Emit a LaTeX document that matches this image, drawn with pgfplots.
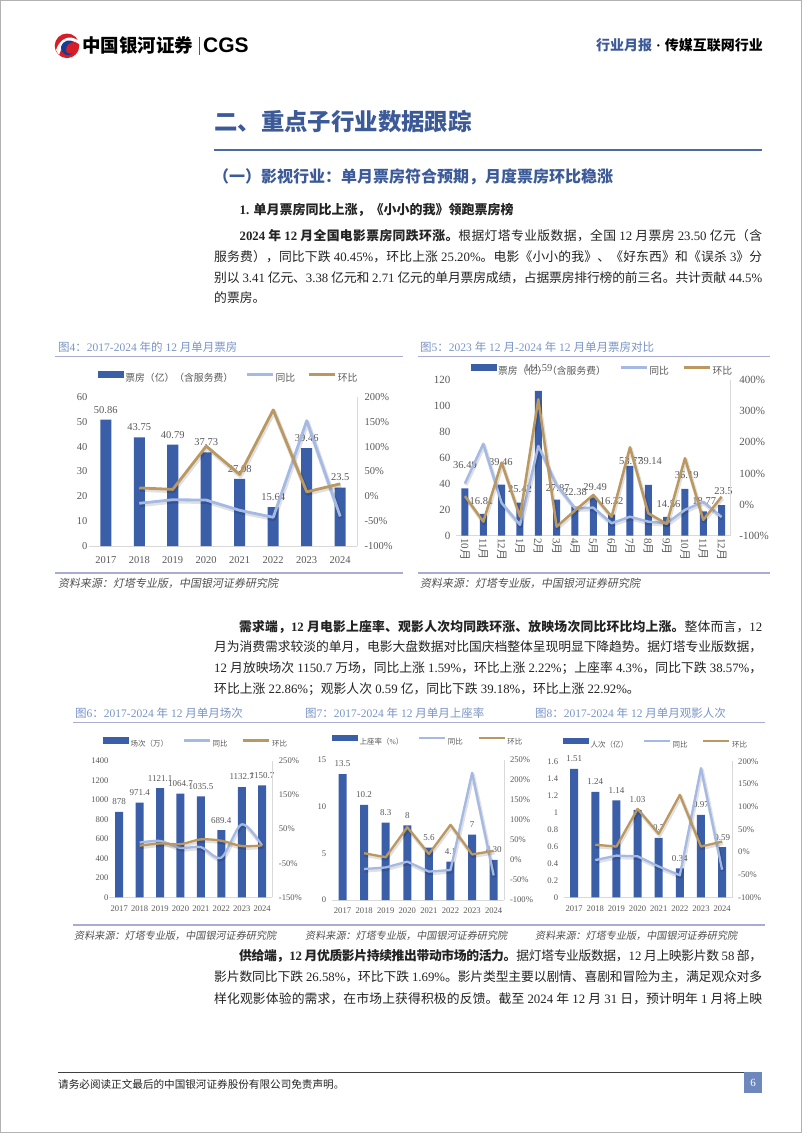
\documentclass[border=0pt]{standalone}
\usepackage{pgfplots}
\pgfplotsset{compat=1.18}
\usepackage{fontspec}
\setmainfont{Liberation Serif}
\newfontfamily\cjkrm{Noto Sans CJK SC}
\newfontfamily\cjksl[FakeSlant=0.18]{Noto Sans CJK SC}
\newfontfamily\lsans{Liberation Sans}
\let\cjkcur\cjkrm
\XeTeXinterchartokenstate=1
\newXeTeXintercharclass\CJKcls
\newcount\cjkcnt
\cjkcnt="2E80
\loop\ifnum\cjkcnt<"A000 \XeTeXcharclass\cjkcnt=\CJKcls \advance\cjkcnt by 1 \repeat
\cjkcnt="FF00
\loop\ifnum\cjkcnt<"FFF0 \XeTeXcharclass\cjkcnt=\CJKcls \advance\cjkcnt by 1 \repeat
\XeTeXinterchartoks 0 \CJKcls={\cjkcur}
\XeTeXinterchartoks 4095 \CJKcls={\cjkcur}
\XeTeXinterchartoks \CJKcls 0={\rmfamily}
\XeTeXinterchartoks \CJKcls 4095={\rmfamily}
\XeTeXinterchartoks \CJKcls \CJKcls={\hskip 0pt plus 1fil minus 0.6pt\relax}

\definecolor{barblue}{RGB}{59,94,168}
\definecolor{yoy}{RGB}{164,185,228}
\definecolor{mom}{RGB}{186,152,96}
\definecolor{lblgray}{RGB}{89,89,89}
\definecolor{axgray}{RGB}{217,217,217}
\definecolor{figtitle}{RGB}{120,148,198}
\definecolor{headblue}{RGB}{60,90,152}
\definecolor{ruleblue}{RGB}{75,105,165}
\definecolor{figrule}{RGB}{168,172,210}
\definecolor{bodytext}{RGB}{35,35,35}
\definecolor{srcgray}{RGB}{80,80,80}
\definecolor{pagebox}{RGB}{110,136,190}
\definecolor{logored}{RGB}{215,30,40}
\definecolor{logoblue}{RGB}{20,60,150}

\pgfplotsset{
  /pgf/number format/assume math mode=true,
  /pgf/number format/1000 sep={},
  barleg/.style={legend image code/.code={\fill[barblue] (0pt,0.05em) rectangle (26pt,0.72em);}},
  yoyleg/.style={legend image code/.code={\draw[yoy,line width=2.5pt] (0pt,0.38em) -- (26pt,0.38em);}},
  momleg/.style={legend image code/.code={\draw[mom,line width=2.5pt] (0pt,0.38em) -- (26pt,0.38em);}},
  leftax/.style={scale only axis, anchor=south west, clip=false,
    axis x line*=bottom, axis y line*=left,
    x axis line style={draw=axgray, line width=0.8pt, -}, y axis line style={draw=none},
    major tick length=0pt, tick style={draw=none},
    ticklabel style={text=lblgray},
    legend style={draw=none, fill=none, anchor=center, legend columns=3, text=lblgray,
      nodes={inner sep=1.5pt}, legend cell align=left}},
  rightax/.style={scale only axis, anchor=south west, clip=false,
    axis x line=none, axis y line*=right, xtick=\empty,
    y axis line style={draw=axgray, line width=0.8pt, -},
    major tick length=0pt, tick style={draw=none},
    ticklabel style={text=lblgray},
    yticklabel={\pgfmathprintnumber{\tick}\%}},
  shadowline/.style={draw=black, opacity=0.12, line width=#1, xshift=0.8pt, yshift=-1.6pt, line join=round},
  yoyline/.style={draw=yoy, line width=#1, line join=round},
  momline/.style={draw=mom, line width=#1, line join=round},
}

\newcommand\tl[4]{\node[anchor=west,inner sep=0pt,text=bodytext,font=\fontsize{12.8}{14}\selectfont] at (#1pt,-#2pt) {\hbox to #3pt{#4}};}
\newcommand\tn[3]{\node[anchor=west,inner sep=0pt,text=bodytext,font=\fontsize{12.8}{14}\selectfont] at (#1pt,-#2pt) {#3};}
\newcommand\figt[3]{\node[anchor=west,inner sep=0pt,text=figtitle,font=\fontsize{11.5}{13}\selectfont] at (#1pt,-#2pt) {#3};}
\newcommand\src[3]{\node[anchor=west,inner sep=0pt,text=srcgray,font=\fontsize{#3}{12}\selectfont] at (#1pt,-#2pt) {\let\cjkcur\cjksl 资料来源：灯塔专业版，中国银河证券研究院};}

\begin{document}
\begin{tikzpicture}
\useasboundingbox (0pt,0pt) rectangle (802pt,-1133pt);
\fill[white] (0pt,0pt) rectangle (802pt,-1133pt);
\draw[gray!60, line width=1pt] (0.5pt,-0.5pt) rectangle (801.5pt,-1132.5pt);

% ---------- header ----------
\fill[logored] (67pt,-45.8pt) circle (12.3pt);
\fill[white] (56pt,-50pt) .. controls (60pt,-38pt) and (70pt,-34pt) .. (79pt,-41pt) -- (79pt,-44pt) .. controls (71pt,-38pt) and (63pt,-42pt) .. (59pt,-55pt) -- cycle;
\fill[logoblue] (61pt,-47pt) .. controls (63pt,-40pt) and (70pt,-39pt) .. (74pt,-42pt) .. controls (69pt,-42pt) and (66pt,-46pt) .. (66pt,-50pt) .. controls (66pt,-53pt) and (70pt,-55pt) .. (73pt,-53pt) .. controls (69pt,-58pt) and (61pt,-55pt) .. (61pt,-47pt) -- cycle;
\node[anchor=west, inner sep=0pt, font=\fontsize{18.5}{20}\selectfont\bfseries] at (82pt,-45.7pt) {中国银河证券};
\draw[logored, line width=1pt] (199.5pt,-36.5pt) -- (199.5pt,-55pt);
\node[anchor=west, inner sep=0pt, font=\lsans\fontsize{21}{22}\selectfont\bfseries] at (203pt,-45.7pt) {CGS};
\node[anchor=east, inner sep=0pt, font=\fontsize{14}{16}\selectfont\bfseries] at (763pt,-45pt) {\textcolor{headblue}{行业月报}\hspace{4pt}·\hspace{4pt}传媒互联网行业};

% ---------- section headings ----------
\node[anchor=west, inner sep=0pt, text=headblue, font=\fontsize{23.4}{26}\selectfont\bfseries] at (214pt,-122pt) {二、重点子行业数据跟踪};
\draw[ruleblue, line width=2pt] (214pt,-150pt) -- (762pt,-150pt);
\node[anchor=west, inner sep=0pt, text=headblue, font=\fontsize{16}{18}\selectfont\bfseries] at (213pt,-177pt) {（一）影视行业：单月票房符合预期，月度票房环比稳涨};
\node[anchor=west, inner sep=0pt, text=bodytext, font=\fontsize{13}{15}\selectfont\bfseries] at (239.4pt,-210pt) {1. 单月票房同比上涨，《小小的我》领跑票房榜};

% ---------- paragraph 1 ----------
\tl{239.4}{236}{522.6}{\bfseries 2024 年 12 月全国电影票房同跌环涨。\mdseries 根据灯塔专业版数据，全国 12 月票房 23.50 亿元（含}
\tl{214}{257}{548}{服务费），同比下跌 40.45\%，环比上涨 25.20\%。电影《小小的我》、《好东西》和《误杀 3》分}
\tl{214}{277.5}{548}{别以 3.41 亿元、3.38 亿元和 2.71 亿元的单月票房成绩，占据票房排行榜的前三名。共计贡献 44.5\%}
\tn{214}{298}{的票房。}

% ---------- figure 4 / 5 frames ----------
\figt{58}{346.7}{图4：2017-2024 年的 12 月单月票房}
\figt{420}{346.7}{图5：2023 年 12 月-2024 年 12 月单月票房对比}
\draw[figrule, line width=1.2pt] (55pt,-356.5pt) -- (403pt,-356.5pt);
\draw[figrule, line width=1.2pt] (418pt,-356.5pt) -- (770pt,-356.5pt);
\draw[figrule, line width=1.2pt] (55pt,-573pt) -- (403pt,-573pt);
\draw[figrule, line width=1.2pt] (418pt,-573pt) -- (770pt,-573pt);
\src{58}{583.5}{11}
\src{420}{583.5}{11}

% ---------- chart 4 ----------
\begin{axis}[leftax, at={(89pt,-546pt)}, width=268pt, height=149pt,
  xmin=-0.5, xmax=7.5, ymin=0, ymax=60, ytick={0,10,20,30,40,50,60},
  xtick={0,...,7}, xticklabels={2017,2018,2019,2020,2021,2022,2023,2024},
  ticklabel style={font=\fontsize{10.5}{12}\selectfont},
  yticklabel style={xshift=2pt}, xticklabel style={yshift=-7pt},
  legend style={at={(axis description cs:0.52,1.128)}, font=\fontsize{9.8}{11}\selectfont,
    /tikz/every even column/.append style={column sep=11pt}}]
\addplot[ybar, bar width=11pt, fill=barblue, draw=none, barleg,
  nodes near coords, point meta=explicit symbolic,
  every node near coord/.append style={font=\fontsize{10.5}{12}\selectfont, text=lblgray, yshift=3pt}]
  coordinates {(0,50.86)[50.86] (1,43.75)[43.75] (2,40.79)[40.79] (3,37.73)[37.73] (4,27.08)[27.08] (5,15.64)[15.64] (6,39.46)[39.46] (7,23.5)[23.5]};
\addlegendentry{票房（亿）（含服务费）}
\addlegendimage{yoyleg}\addlegendentry{同比}
\addlegendimage{momleg}\addlegendentry{环比}
\end{axis}
\begin{axis}[rightax, at={(89pt,-546pt)}, width=268pt, height=149pt,
  xmin=-0.5, xmax=7.5, ymin=-100, ymax=200, ytick={-100,-50,0,50,100,150,200},
  ticklabel style={font=\fontsize{10.5}{12}\selectfont}, yticklabel style={xshift=4pt}]
\addplot[shadowline=4.5pt] coordinates {(1,-14) (2,-6.8) (3,-7.5) (4,-28.2) (5,-42.2) (6,152.3) (7,-40.45)};
\addplot[yoyline=2.8pt] coordinates {(1,-14) (2,-6.8) (3,-7.5) (4,-28.2) (5,-42.2) (6,152.3) (7,-40.45)};
\addplot[shadowline=4.5pt] coordinates {(1,17) (2,14) (3,101) (4,44) (5,174) (6,9) (7,25.2)};
\addplot[momline=2.8pt] coordinates {(1,17) (2,14) (3,101) (4,44) (5,174) (6,9) (7,25.2)};
\end{axis}

% ---------- chart 5 ----------
\begin{axis}[leftax, at={(455.8pt,-535.7pt)}, width=275pt, height=155.7pt,
  xmin=-0.5, xmax=14.5, ymin=0, ymax=120, ytick={0,20,40,60,80,100,120},
  xtick={0,...,14}, xticklabels={10月,11月,12月,1月,2月,3月,4月,5月,6月,7月,8月,9月,10月,11月,12月},
  yticklabel style={font=\fontsize{11}{12}\selectfont, xshift=-2pt},
  xticklabel style={font=\fontsize{11}{12}\selectfont, rotate=-90, anchor=west, xshift=-1pt},
  legend style={at={(axis description cs:0.532,1.058)}, font=\fontsize{9.8}{11}\selectfont,
    /tikz/every even column/.append style={column sep=12pt}}]
\addplot[ybar, bar width=7pt, fill=barblue, draw=none, barleg]
  coordinates {(0,36.49) (1,16.81) (2,39.46) (3,25.42) (4,111.59) (5,27.87) (6,22.38) (7,29.49) (8,16.32) (9,53.77) (10,39.14) (11,14.56) (12,36.19) (13,18.77) (14,23.5)};
\addlegendentry{票房（亿）（含服务费）}
\addlegendimage{yoyleg}\addlegendentry{同比}
\addlegendimage{momleg}\addlegendentry{环比}
\addplot[draw=none, nodes near coords, point meta=explicit symbolic,
  every node near coord/.append style={font=\fontsize{10.5}{12}\selectfont, text=lblgray, anchor=center, inner sep=0pt}]
  coordinates {(0,54.1)[36.49] (0.9,27)[16.81] (1.96,57)[39.46] (3,36)[25.42] (4,129)[111.59] (5.06,37)[27.87] (6,34)[22.38] (7.1,37.3)[29.49] (8,27)[16.32] (9.05,57.6)[53.77] (10.1,57.6)[39.14] (11.1,24.2)[14.56] (12.1,46.8)[36.19] (13.05,27)[18.77] (14.1,34.5)[23.5]};
\end{axis}
\begin{axis}[rightax, at={(455.8pt,-535.7pt)}, width=275pt, height=155.7pt,
  xmin=-0.5, xmax=14.5, ymin=-100, ymax=400, ytick={-100,0,100,200,300,400},
  ticklabel style={font=\fontsize{11}{12}\selectfont}, yticklabel style={xshift=5pt}]
\addplot[shadowline=4pt] coordinates {(0,68) (1,195) (2,5) (3,-65) (4,188) (5,63) (6,-12) (7,-10) (8,-60) (9,-39) (10,-55) (11,-60) (12,-17) (13,9) (14,-40.45)};
\addplot[yoyline=2.5pt] coordinates {(0,68) (1,195) (2,5) (3,-65) (4,188) (5,63) (6,-12) (7,-10) (8,-60) (9,-39) (10,-55) (11,-60) (12,-17) (13,9) (14,-40.45)};
\addplot[shadowline=4pt] coordinates {(0,27) (1,-55) (2,135) (3,-39) (4,338) (5,-71) (6,-19) (7,31) (8,-39) (9,184) (10,-28) (11,-62) (12,149) (13,-49) (14,25.2)};
\addplot[momline=2.5pt] coordinates {(0,27) (1,-55) (2,135) (3,-39) (4,338) (5,-71) (6,-19) (7,31) (8,-39) (9,184) (10,-28) (11,-62) (12,149) (13,-49) (14,25.2)};
\end{axis}

% ---------- paragraph 2 ----------
\tl{239}{626.7}{523}{\bfseries 需求端，12 月电影上座率、观影人次均同跌环涨、放映场次同比环比均上涨。\mdseries 整体而言，12}
\tl{214}{647}{548}{月为消费需求较淡的单月，电影大盘数据对比国庆档整体呈现明显下降趋势。据灯塔专业版数据，}
\tl{214}{668}{548}{12 月放映场次 1150.7 万场，同比上涨 1.59\%，环比上涨 2.22\%；上座率 4.3\%，同比下跌 38.57\%，}
\tn{214}{689}{环比上涨 22.86\%；观影人次 0.59 亿，同比下跌 39.18\%，环比上涨 22.92\%。}

% ---------- figures 6-8 frames ----------
\figt{75}{712.7}{图6：2017-2024 年 12 月单月场次}
\figt{305}{712.7}{图7：2017-2024 年 12 月单月上座率}
\figt{535}{712.7}{图8：2017-2024 年 12 月单月观影人次}
\draw[figrule, line width=1.2pt] (73pt,-722.5pt) -- (765pt,-722.5pt);
\draw[figrule, line width=1.2pt] (73pt,-925pt) -- (765pt,-925pt);
\src{74}{935.5}{10.1}
\src{305}{935.5}{10.1}
\src{535}{935.5}{10.1}

% ---------- chart 6 ----------
\begin{axis}[leftax, at={(109pt,-897.3pt)}, width=163.4pt, height=136.3pt,
  xmin=-0.5, xmax=7.5, ymin=0, ymax=1400, ytick={0,200,400,600,800,1000,1200,1400},
  xtick={0,...,7}, xticklabels={2017,2018,2019,2020,2021,2022,2023,2024},
  ticklabel style={font=\fontsize{8.6}{10}\selectfont},
  yticklabel style={xshift=3pt}, xticklabel style={yshift=-5pt},
  legend style={at={(axis description cs:0.532,1.13)}, font=\fontsize{7.5}{9}\selectfont,
    /tikz/every even column/.append style={column sep=13pt}}]
\addplot[ybar, bar width=8pt, fill=barblue, draw=none, barleg,
  nodes near coords, point meta=explicit symbolic,
  every node near coord/.append style={font=\fontsize{9}{10}\selectfont, text=lblgray, yshift=3.5pt}]
  coordinates {(0,878)[878] (1,971.4)[971.4] (2,1121.1)[1121.1] (3,1064.7)[1064.7] (4,1035.5)[1035.5] (5,689.4)[689.4] (6,1132.7)[1132.7] (7,1150.7)[1150.7]};
\addlegendentry{场次（万）}
\addlegendimage{yoyleg}\addlegendentry{同比}
\addlegendimage{momleg}\addlegendentry{环比}
\end{axis}
\begin{axis}[rightax, at={(109pt,-897.3pt)}, width=163.4pt, height=136.3pt,
  xmin=-0.5, xmax=7.5, ymin=-150, ymax=250, ytick={-150,-50,50,150,250},
  ticklabel style={font=\fontsize{8.6}{10}\selectfont}, yticklabel style={xshift=3pt}]
\addplot[shadowline=4pt, smooth] coordinates {(1,10.6) (2,15.4) (3,-5) (4,-2.7) (5,-33.4) (6,64.3) (7,1.59)};
\addplot[yoyline=2.3pt, smooth] coordinates {(1,10.6) (2,15.4) (3,-5) (4,-2.7) (5,-33.4) (6,64.3) (7,1.59)};
\addplot[shadowline=4pt, smooth] coordinates {(1,1.5) (2,8) (3,6) (4,20) (5,16) (6,0.5) (7,2.22)};
\addplot[momline=2.3pt, smooth] coordinates {(1,1.5) (2,8) (3,6) (4,20) (5,16) (6,0.5) (7,2.22)};
\end{axis}

% ---------- chart 7 ----------
\begin{axis}[leftax, at={(331.7pt,-900pt)}, width=172.8pt, height=140pt,
  xmin=-0.5, xmax=7.5, ymin=0, ymax=15, ytick={0,5,10,15},
  xtick={0,...,7}, xticklabels={2017,2018,2019,2020,2021,2022,2023,2024},
  ticklabel style={font=\fontsize{8.6}{10}\selectfont},
  yticklabel style={xshift=-2pt}, xticklabel style={yshift=-4pt},
  legend style={at={(axis description cs:0.557,1.136)}, font=\fontsize{7.5}{9}\selectfont,
    /tikz/every even column/.append style={column sep=13pt}}]
\addplot[ybar, bar width=8pt, fill=barblue, draw=none, barleg,
  nodes near coords, point meta=explicit symbolic,
  every node near coord/.append style={font=\fontsize{9}{10}\selectfont, text=lblgray, yshift=3.5pt}]
  coordinates {(0,13.5)[13.5] (1,10.2)[10.2] (2,8.3)[8.3] (3,8)[8] (4,5.6)[5.6] (5,4.1)[4.1] (6,7)[7] (7,4.3)[4.30]};
\addlegendentry{上座率（\%）}
\addlegendimage{yoyleg}\addlegendentry{同比}
\addlegendimage{momleg}\addlegendentry{环比}
\end{axis}
\begin{axis}[rightax, at={(331.7pt,-900pt)}, width=172.8pt, height=140pt,
  xmin=-0.5, xmax=7.5, ymin=-100, ymax=250, ytick={-100,-50,0,50,100,150,200,250},
  ticklabel style={font=\fontsize{8.6}{10}\selectfont}, yticklabel style={xshift=2pt}]
\addplot[shadowline=4pt] coordinates {(1,-22.5) (2,-18.6) (3,-4) (4,-29) (5,-25) (6,218) (7,-38.57)};
\addplot[yoyline=2.3pt] coordinates {(1,-22.5) (2,-18.6) (3,-4) (4,-29) (5,-25) (6,218) (7,-38.57)};
\addplot[shadowline=4pt] coordinates {(1,17) (2,7) (3,82) (4,15) (5,88) (6,14) (7,22.86)};
\addplot[momline=2.3pt] coordinates {(1,17) (2,7) (3,82) (4,15) (5,88) (6,14) (7,22.86)};
\end{axis}

% ---------- chart 8 ----------
\begin{axis}[leftax, at={(563.6pt,-897.3pt)}, width=169.1pt, height=136pt,
  xmin=-0.5, xmax=7.5, ymin=0, ymax=1.6, ytick={0,0.2,0.4,0.6,0.8,1,1.2,1.4,1.6},
  xtick={0,...,7}, xticklabels={2017,2018,2019,2020,2021,2022,2023,2024},
  ticklabel style={font=\fontsize{8.6}{10}\selectfont},
  yticklabel style={xshift=-2pt}, xticklabel style={yshift=-5pt},
  legend style={at={(axis description cs:0.546,1.127)}, font=\fontsize{7.5}{9}\selectfont,
    /tikz/every even column/.append style={column sep=13pt}}]
\addplot[ybar, bar width=8pt, fill=barblue, draw=none, barleg,
  nodes near coords, point meta=explicit symbolic,
  every node near coord/.append style={font=\fontsize{9}{10}\selectfont, text=lblgray, yshift=3.5pt}]
  coordinates {(0,1.51)[1.51] (1,1.24)[1.24] (2,1.14)[1.14] (3,1.03)[1.03] (4,0.7)[0.7] (5,0.34)[0.34] (6,0.97)[0.97] (7,0.59)[0.59]};
\addlegendentry{人次（亿）}
\addlegendimage{yoyleg}\addlegendentry{同比}
\addlegendimage{momleg}\addlegendentry{环比}
\end{axis}
\begin{axis}[rightax, at={(563.6pt,-897.3pt)}, width=169.1pt, height=136pt,
  xmin=-0.5, xmax=7.5, ymin=-100, ymax=200, ytick={-100,-50,0,50,100,150,200},
  ticklabel style={font=\fontsize{8.6}{10}\selectfont}, yticklabel style={xshift=2pt}]
\addplot[shadowline=4pt] coordinates {(1,-17.9) (2,-8) (3,-9.6) (4,-32) (5,-51.4) (6,185) (7,-39.18)};
\addplot[yoyline=2.3pt] coordinates {(1,-17.9) (2,-8) (3,-9.6) (4,-32) (5,-51.4) (6,185) (7,-39.18)};
\addplot[shadowline=4pt] coordinates {(1,16) (2,12) (3,95) (4,40) (5,126) (6,12) (7,22.92)};
\addplot[momline=2.3pt] coordinates {(1,16) (2,12) (3,95) (4,40) (5,126) (6,12) (7,22.92)};
\end{axis}

% ---------- paragraph 3 ----------
\tl{239}{956}{523}{\bfseries 供给端，12 月优质影片持续推出带动市场的活力。\mdseries 据灯塔专业版数据，12 月上映影片数 58 部，}
\tl{214}{977}{548}{影片数同比下跌 26.58\%，环比下跌 1.69\%。影片类型主要以剧情、喜剧和冒险为主，满足观众对多}
\tl{214}{998.5}{548}{样化观影体验的需求，在市场上获得积极的反馈。截至 2024 年 12 月 31 日，预计明年 1 月将上映}

% ---------- footer ----------
\draw[black!75, line width=1pt] (58pt,-1072pt) -- (762pt,-1072pt);
\node[anchor=west, inner sep=0pt, text=bodytext, font=\fontsize{10.6}{12}\selectfont] at (58pt,-1084pt) {请务必阅读正文最后的中国银河证券股份有限公司免责声明。};
\fill[pagebox] (744pt,-1072pt) rectangle (762pt,-1093pt);
\node[text=white, inner sep=0pt, font=\fontsize{11}{12}\selectfont] at (753pt,-1083pt) {6};
\end{tikzpicture}
\end{document}
